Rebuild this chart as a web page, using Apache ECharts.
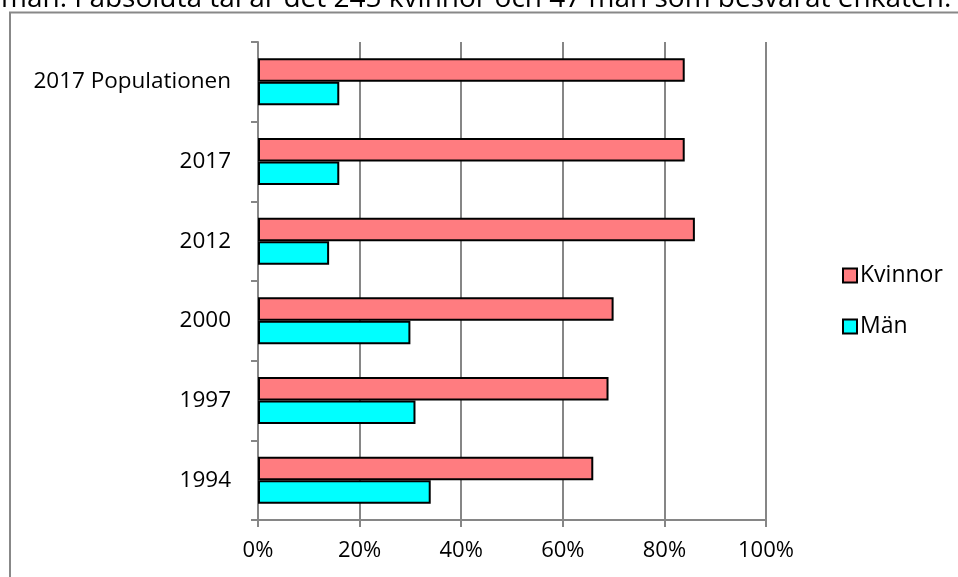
<!DOCTYPE html>
<html>
<head>
<meta charset="utf-8">
<script src="https://cdn.jsdelivr.net/npm/echarts@6/dist/echarts.min.js"></script>
<style>
html,body{margin:0;padding:0;background:#fff;}
#c{width:958px;height:577px;}
</style>
</head>
<body>
<div id="c"></div>
<script>
const categories = ['1994', '1997', '2000', '2012', '2017', '2017 Populationen'];
const kvinnor = [66, 69, 70, 86, 84, 84];
const man = [34, 31, 30, 14, 16, 16];
const xTicks = [0, 20, 40, 60, 80, 100];
const topText = 'män. I absoluta tal är det 245 kvinnor och 47 män som besvarat enkäten.';

const FONT = '"Open Sans", Lato, sans-serif';
const chart = echarts.init(document.getElementById('c'), null, {renderer: 'canvas'});
chart.setOption({
  animation: false,
  backgroundColor: '#fff',
  textStyle: {fontFamily: FONT},
  graphic: [
    {type: 'rect', silent: true, z: -10,
      shape: {x: 10, y: 12.5, width: 1000, height: 700},
      style: {fill: 'none', stroke: '#888', lineWidth: 2}},
    {type: 'text', x: 1, y: 13, z: 10,
      style: {text: topText, font: '28px ' + FONT, fill: '#000', verticalAlign: 'bottom'}}
  ],
  legend: {
    orient: 'vertical',
    left: 837, top: 259,
    itemWidth: 14, itemHeight: 14, itemGap: 28,
    data: ['Kvinnor', 'Män'],
    textStyle: {fontSize: 23, color: '#000', fontFamily: FONT, padding: [0, 0, 0, -2]},
    icon: 'rect'
  },
  grid: {left: 258, right: 192, top: 42, bottom: 57, containLabel: false},
  xAxis: {
    type: 'value', min: xTicks[0], max: xTicks[xTicks.length - 1], interval: 20,
    axisLine: {show: true, lineStyle: {color: '#868686', width: 2}},
    axisTick: {show: true, length: 7, lineStyle: {color: '#868686', width: 2}},
    splitLine: {show: true, lineStyle: {color: '#868686', width: 2}},
    axisLabel: {formatter: '{value}%', fontSize: 22, color: '#000', margin: 20, fontFamily: FONT}
  },
  yAxis: {
    type: 'category', data: categories,
    axisLine: {show: true, lineStyle: {color: '#868686', width: 2}},
    axisTick: {show: true, length: 7, lineStyle: {color: '#868686', width: 2}},
    axisLabel: {fontSize: 22.5, color: '#000', margin: 27, fontFamily: FONT}
  },
  series: [
    {name: 'Kvinnor', type: 'bar', data: kvinnor, barGap: '0%', barCategoryGap: '41%',
      itemStyle: {color: '#FF7C80', borderColor: '#000', borderWidth: 2}},
    {name: 'Män', type: 'bar', data: man, barGap: '0%', barCategoryGap: '41%',
      itemStyle: {color: '#00FFFF', borderColor: '#000', borderWidth: 2}}
  ]
});
</script>
</body>
</html>
